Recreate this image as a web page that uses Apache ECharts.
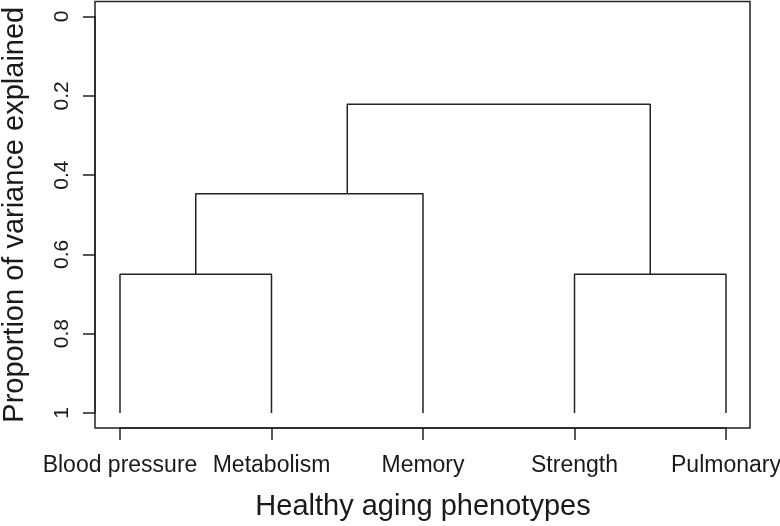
<!DOCTYPE html>
<html>
<head>
<meta charset="utf-8">
<script src="https://cdn.jsdelivr.net/npm/echarts@6/dist/echarts.min.js"></script>
<style>
  html, body { margin: 0; padding: 0; background: #fff; }
  #chart { width: 780px; height: 526px; }
</style>
</head>
<body>
<div id="chart"></div>
<script>
// Leaves (x axis categories, in plotted order)
const leaves = ['Blood pressure', 'Metabolism', 'Memory', 'Strength', 'Pulmonary'];
const leafHeight = 1;

// Merge nodes of the dendrogram
const nodeNames  = ['C1', 'C2', 'C3', 'C4'];
const nodeLeft   = ['Blood pressure', 'Strength', 'C1', 'C3'];
const nodeRight  = ['Metabolism', 'Pulmonary', 'Memory', 'C2'];
const nodeHeight = [0.65, 0.65, 0.447, 0.221];
const nodePos    = [1.5, 4.5, 2.5, 3.5];

// Y tick values
const yTicks = [0, 0.2, 0.4, 0.6, 0.8, 1];

const xTitle = 'Healthy aging phenotypes';
const yTitle = 'Proportion of variance explained';

function locate(name) {
  const li = leaves.indexOf(name);
  if (li >= 0) return [li + 1, leafHeight];
  const ni = nodeNames.indexOf(name);
  return [nodePos[ni], nodeHeight[ni]];
}

const ink = '#222';
const series = nodeNames.map((n, i) => {
  const l = locate(nodeLeft[i]);
  const r = locate(nodeRight[i]);
  const h = nodeHeight[i];
  return {
    type: 'line',
    xAxisIndex: 0, yAxisIndex: 0,
    data: [[l[0], l[1]], [l[0], h], [r[0], h], [r[0], r[1]]],
    symbol: 'none',
    silent: true,
    lineStyle: { color: ink, width: 1.5 },
    animation: false
  };
});

const chart = echarts.init(document.getElementById('chart'), null, { renderer: 'canvas' });
chart.setOption({
  backgroundColor: '#fff',
  animation: false,
  textStyle: { fontFamily: 'Liberation Sans, Arial, sans-serif' },
  grid: [
    { left: 120, right: 54, top: 16.5, bottom: 113, outerBoundsMode: 'none', containLabel: false },
    { left: 95, right: 30, top: 1.5, bottom: 98, outerBoundsMode: 'none', containLabel: false,
      show: true, borderColor: ink, borderWidth: 1.5, backgroundColor: 'transparent' }
  ],
  xAxis: [
    {
      gridIndex: 0, type: 'value', min: 1, max: leaves.length, interval: 1,
      position: 'bottom', offset: 15,
      axisLine: { show: true, onZero: false, lineStyle: { color: ink, width: 1.5 } },
      axisTick: { show: true, length: 12, lineStyle: { color: ink, width: 1.5 } },
      splitLine: { show: false },
      axisLabel: {
        fontSize: 23, color: '#1a1a1a', margin: 26,
        showMinLabel: true, showMaxLabel: true,
        formatter: v => leaves[Math.round(v) - 1] || ''
      },
      name: xTitle, nameLocation: 'middle', nameGap: 64,
      nameTextStyle: { fontSize: 29, color: '#1a1a1a' }
    },
    { gridIndex: 1, type: 'value', show: false, min: 0, max: 1 }
  ],
  yAxis: [
    {
      gridIndex: 0, type: 'value', min: yTicks[0], max: yTicks[yTicks.length - 1], interval: 0.2,
      inverse: true, position: 'left', offset: 25,
      axisLine: { show: true, onZero: false, lineStyle: { color: ink, width: 1.5 } },
      axisTick: { show: true, length: 12, lineStyle: { color: ink, width: 1.5 } },
      splitLine: { show: false },
      axisLabel: {
        fontSize: 21, color: '#1a1a1a', margin: 22, rotate: 90,
        showMinLabel: true, showMaxLabel: true,
        formatter: v => String(Math.round(v * 10) / 10)
      },
      name: yTitle, nameLocation: 'middle', nameGap: 66, nameRotate: 90,
      nameTextStyle: { fontSize: 29, color: '#1a1a1a' }
    },
    { gridIndex: 1, type: 'value', show: false, min: 0, max: 1 }
  ],
  series: series
});
</script>
</body>
</html>
